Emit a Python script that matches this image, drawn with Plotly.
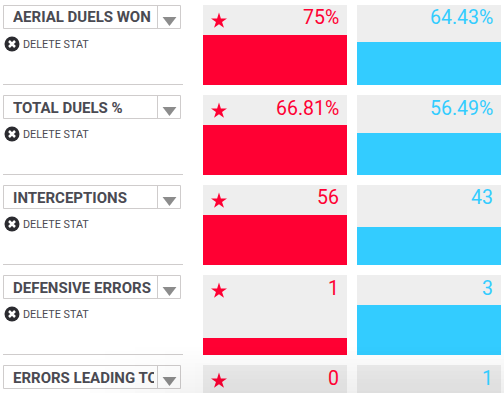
import plotly.graph_objects as go

stats = ["AERIAL DUELS WON", "TOTAL DUELS %", "INTERCEPTIONS", "DEFENSIVE ERRORS", "ERRORS LEADING TO GOAL"]
red_values = [75, 66.81, 56, 1, 0]
blue_values = [64.43, 56.49, 43, 3, 1]
red_labels = ["75%", "66.81%", "56", "1", "0"]
blue_labels = ["64.43%", "56.49%", "43", "3", "1"]
# Each row has its own scale: the larger value fills 5/8 of the panel.
row_max = [120, 106.9, 89.6, 4.8, 1.6]

W, H = 504, 393
RED, BLUE, PANEL = "#ff0033", "#33ccff", "#eeeeee"
LINE, TITLE, DARK = "#cfcccc", "#4a4a52", "#2b2b30"
ROW_STEP, ROW_TOP, PANEL_H = 90, 5, 80
COLS = [(203, 347), (357, 501)]

fig = go.Figure()
layout = dict(width=W, height=H, margin=dict(l=0, r=0, t=0, b=0), autosize=False,
              paper_bgcolor="white", plot_bgcolor="rgba(0,0,0,0)",
              showlegend=False, barmode="overlay", bargap=0, hovermode=False)
shapes, annotations = [], []


def px_x(p):
    return p / W


def px_y(p):
    return 1 - p / H


axis_id = 1
for r, name in enumerate(stats):
    top = ROW_TOP + r * ROW_STEP
    bottom = top + PANEL_H
    visible_bottom = min(bottom, H)
    vmax = row_max[r]
    # value sitting at the visible bottom edge of the panel (row 5 runs off the page)
    vmin = vmax * (bottom - visible_bottom) / PANEL_H
    for c, (values, color) in enumerate([(red_values, RED), (blue_values, BLUE)]):
        suffix = "" if axis_id == 1 else str(axis_id)
        x0, x1 = COLS[c]
        layout["xaxis" + suffix] = dict(domain=[px_x(x0), px_x(x1)], range=[-0.5, 0.5], visible=False,
                                        fixedrange=True, anchor="y" + suffix)
        layout["yaxis" + suffix] = dict(domain=[px_y(visible_bottom), px_y(top)], range=[vmin, vmax],
                                        visible=False, fixedrange=True, anchor="x" + suffix)
        fig.add_trace(go.Bar(x=[0], y=[values[r]], width=[1], marker=dict(color=color, line=dict(width=0)),
                             xaxis="x" + suffix, yaxis="y" + suffix, cliponaxis=True))
        shapes.append(dict(type="rect", xref="x" + suffix + " domain", yref="y" + suffix + " domain",
                           x0=0, x1=1, y0=0, y1=1, fillcolor=PANEL, line_width=0, layer="below"))
        axis_id += 1

    # value labels
    annotations.append(dict(text=red_labels[r], xref="paper", yref="paper", x=px_x(341), y=px_y(top + 13),
                            xanchor="right", yanchor="middle", showarrow=False,
                            font=dict(family="Roboto", size=19.5, color=RED)))
    annotations.append(dict(text=blue_labels[r], xref="paper", yref="paper", x=px_x(495), y=px_y(top + 13),
                            xanchor="right", yanchor="middle", showarrow=False,
                            font=dict(family="Roboto", size=19.5, color=BLUE)))

    # dropdown box
    shapes.append(dict(type="rect", xref="paper", yref="paper", x0=px_x(3.5), x1=px_x(180.5),
                       y0=px_y(top + 23.5), y1=px_y(top + 0.5), line=dict(color=LINE, width=1),
                       fillcolor="rgba(0,0,0,0)", layer="above"))
    shapes.append(dict(type="line", xref="paper", yref="paper", x0=px_x(157.5), x1=px_x(157.5),
                       y0=px_y(top + 23.5), y1=px_y(top + 0.5), line=dict(color=LINE, width=1), layer="above"))
    annotations.append(dict(text="<b>" + name + "</b>", xref="paper", yref="paper", x=px_x(11), y=px_y(top + 12.5),
                            xanchor="left", yanchor="middle", showarrow=False, width=141, align="left",
                            font=dict(family="Roboto", size=15, color=TITLE)))
    if r < 4:
        annotations.append(dict(text="DELETE STAT", xref="paper", yref="paper", x=px_x(21), y=px_y(top + 39),
                                xanchor="left", yanchor="middle", showarrow=False,
                                font=dict(family="Roboto", size=10.8, color=TITLE)))
        shapes.append(dict(type="line", xref="paper", yref="paper", x0=px_x(3), x1=px_x(183),
                           y0=px_y(top + 79.5), y1=px_y(top + 79.5), line=dict(color=LINE, width=1), layer="above"))

# overlay in page pixels for the small glyphs
layout["xaxis11"] = dict(domain=[0, 1], range=[0, W], visible=False, fixedrange=True, anchor="y11")
layout["yaxis11"] = dict(domain=[0, 1], range=[H, 0], visible=False, fixedrange=True, anchor="x11")
rows = list(range(len(stats)))
tops = [ROW_TOP + r * ROW_STEP for r in rows]
fig.add_trace(go.Scatter(x=[219] * 5, y=[t + 16 for t in tops], mode="markers",
                         marker=dict(symbol="star", size=12, color=RED, line_width=0), xaxis="x11", yaxis="y11"))
fig.add_trace(go.Scatter(x=[169.5] * 5, y=[t + 15 for t in tops], mode="markers",
                         marker=dict(symbol="triangle-down", size=12, color="#8c8c8c", line_width=0),
                         xaxis="x11", yaxis="y11"))
fig.add_trace(go.Scatter(x=[12] * 4, y=[t + 39 for t in tops[:4]], mode="markers",
                         marker=dict(symbol="circle", size=15, color=DARK, line_width=0), xaxis="x11", yaxis="y11"))
fig.add_trace(go.Scatter(x=[12] * 4, y=[t + 39 for t in tops[:4]], mode="markers",
                         marker=dict(symbol="x-thin", size=6, color="rgba(0,0,0,0)",
                                     line=dict(color="white", width=2.5)), xaxis="x11", yaxis="y11"))

# faint shadow fading in along the bottom edge and towards the right
for i, y in enumerate(range(347, H, 4)):
    strength = 0.0055 * (i + 1)
    for x in range(90, 210, 15):
        shapes.append(dict(type="rect", xref="paper", yref="paper", x0=px_x(x), x1=px_x(x + 15),
                           y0=px_y(min(y + 4, H)), y1=px_y(y),
                           fillcolor="rgba(0,0,0,%.4f)" % (strength * (x - 90 + 15) / 120 * 0.8),
                           line_width=0, layer="above"))
    shapes.append(dict(type="rect", xref="paper", yref="paper", x0=px_x(210), x1=1,
                       y0=px_y(min(y + 4, H)), y1=px_y(y), fillcolor="rgba(0,0,0,%.4f)" % strength,
                       line_width=0, layer="above"))

layout["shapes"] = shapes
layout["annotations"] = annotations
fig.update_layout(**layout)
fig.write_html("out.html", config={"displayModeBar": False}, post_script="document.body.style.margin='0';")
